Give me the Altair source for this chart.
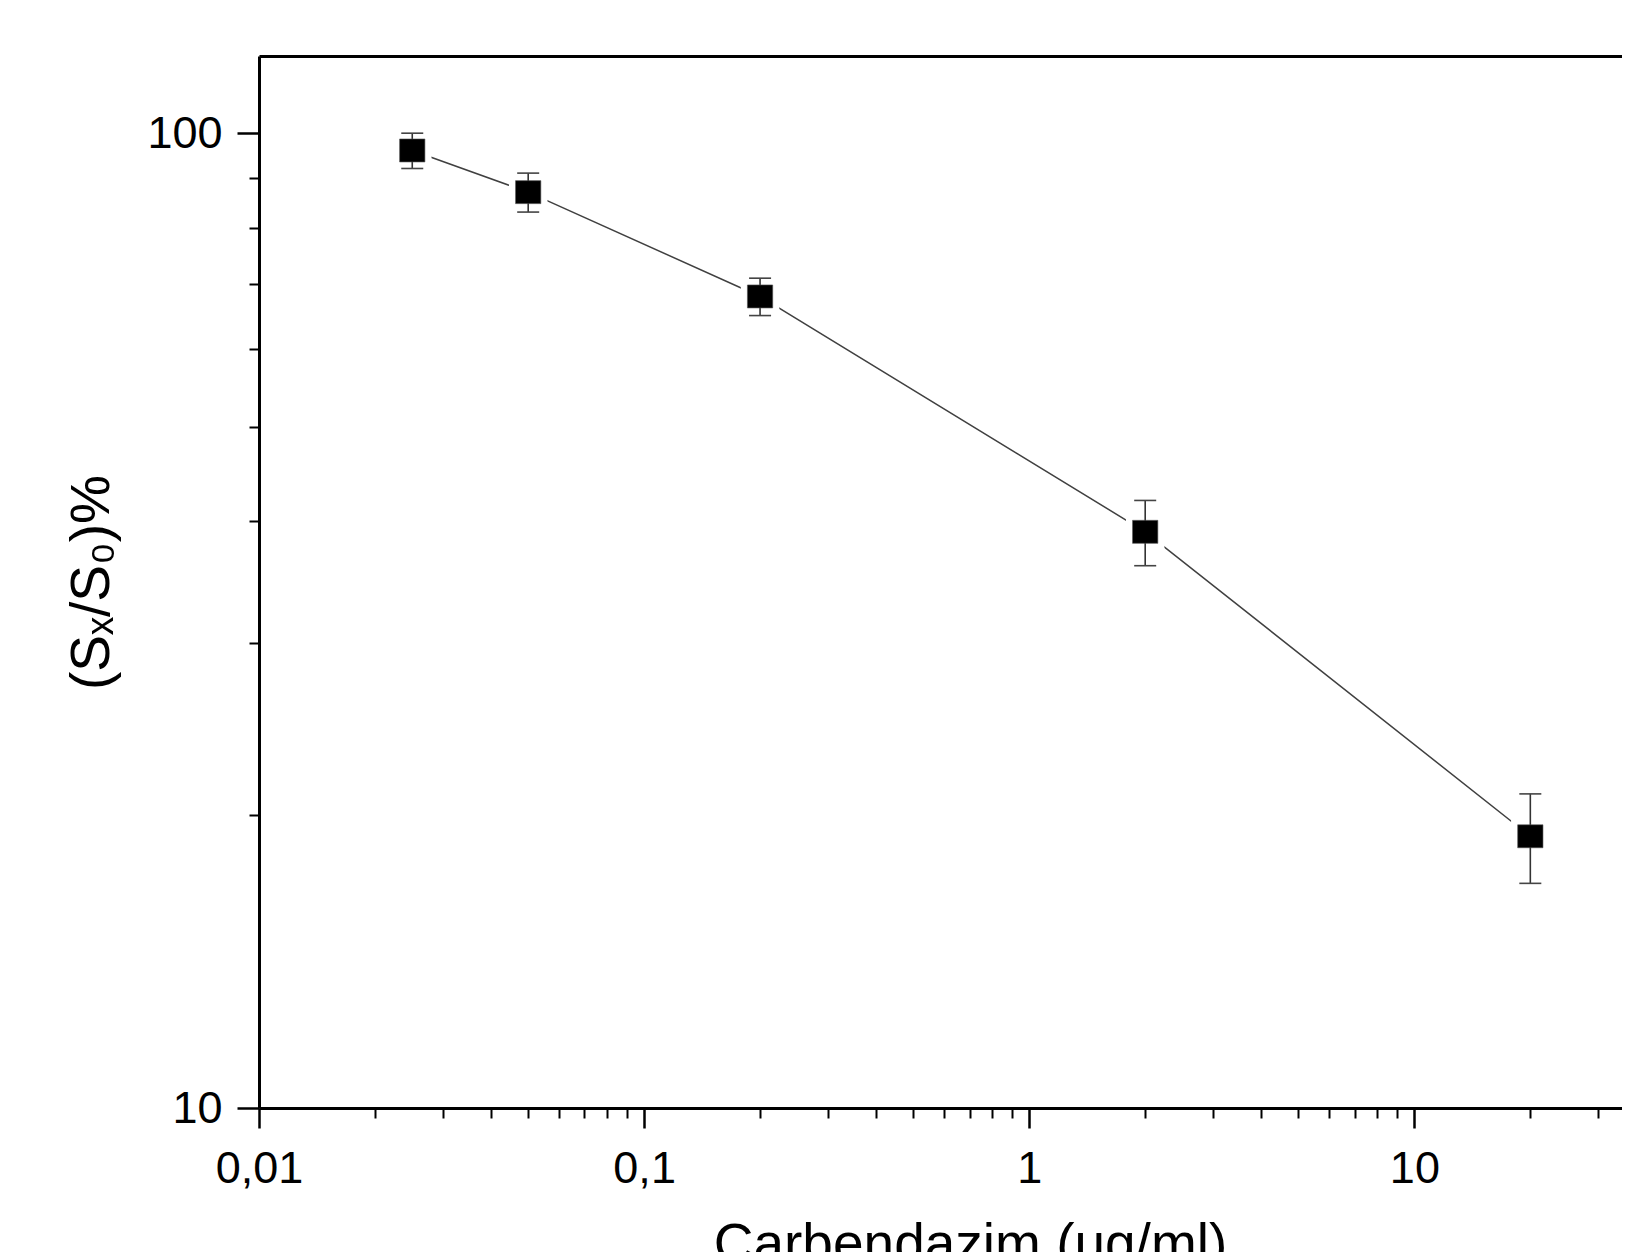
import altair as alt
import pandas as pd

# ---- data ----
conc = [0.025, 0.05, 0.2, 2, 20]          # Carbendazim (ug/ml)
ratio = [96, 87, 68, 39, 19]              # (Sx/S0)%
err = [4, 4, 3, 3, 2]                     # error bar half-width

x_major = [0.01, 0.1, 1, 10]
x_minor = [0.02, 0.03, 0.04, 0.05, 0.06, 0.07, 0.08, 0.09,
           0.2, 0.3, 0.4, 0.5, 0.6, 0.7, 0.8, 0.9,
           2, 3, 4, 5, 6, 7, 8, 9, 20, 30]
y_major = [10, 100]
y_minor = [20, 30, 40, 50, 60, 70, 80, 90]

x_domain = [0.01, 34.6]
y_domain = [10, 120]

df = pd.DataFrame({
    "conc": conc,
    "ratio": ratio,
    "lo": [r - e for r, e in zip(ratio, err)],
    "hi": [r + e for r, e in zip(ratio, err)],
})

FONT = "Liberation Sans"
W, H = 1363, 1052
SHAPE = "M-1.1,-1L1.1,-1L1.1,1L-1.1,1Z"

xscale = alt.Scale(type="log", domain=x_domain, nice=False)
yscale = alt.Scale(type="log", domain=y_domain, nice=False)

ax_x_major = alt.Axis(
    orient="bottom", values=x_major, grid=False,
    domain=True, domainColor="black", domainWidth=3,
    ticks=True, tickSize=20, tickWidth=2.5, tickColor="black",
    labelExpr="replace(toString(datum.value), '.', ',')",
    labelFont=FONT, labelFontSize=45, labelColor="black", labelPadding=18,
    labelFlush=False, labelOverlap=False,
    title="Carbendazim (ug/ml)", titleFont=FONT, titleFontSize=55,
    titleFontWeight="normal", titleColor="black",
    titleX=711, titleY=153, titleAlign="center", titleBaseline="alphabetic",
)
ax_x_minor = alt.Axis(
    orient="bottom", values=x_minor, grid=False, domain=False,
    ticks=True, tickSize=10, tickWidth=2, tickColor="black",
    labels=False, title=None,
)
ax_x_top = alt.Axis(
    orient="top", grid=False, domain=True, domainColor="black", domainWidth=3,
    ticks=False, labels=False, title=None,
)
ax_y_major = alt.Axis(
    orient="left", values=y_major, grid=False,
    domain=True, domainColor="black", domainWidth=3,
    ticks=True, tickSize=22, tickWidth=2.5, tickColor="black",
    labelFont=FONT, labelFontSize=45, labelColor="black", labelPadding=15,
    labelFlush=False, labelOverlap=False,
    title="(Sₓ/S₀)%", titleFont=FONT, titleFontSize=55,
    titleFontWeight="normal", titleColor="black",
    titleAngle=270, titleX=-151, titleY=526,
    titleAlign="center", titleBaseline="alphabetic",
)
ax_y_minor = alt.Axis(
    orient="left", values=y_minor, grid=False, domain=False,
    ticks=True, tickSize=10, tickWidth=2, tickColor="black",
    labels=False, title=None,
)

base = alt.Chart(df)

line = base.mark_line(color="#404040", strokeWidth=1.5).encode(
    x=alt.X("conc:Q", scale=xscale, axis=ax_x_major),
    y=alt.Y("ratio:Q", scale=yscale, axis=ax_y_major),
)

halo = base.mark_point(shape=SHAPE, size=1225, filled=True, color="white",
                       opacity=1, strokeWidth=0).encode(
    x=alt.X("conc:Q", scale=xscale, axis=ax_x_minor),
    y=alt.Y("ratio:Q", scale=yscale, axis=ax_y_minor),
)

rules = base.mark_rule(color="#333333", strokeWidth=1.6, opacity=1).encode(
    x=alt.X("conc:Q", scale=xscale, axis=ax_x_top),
    y=alt.Y("lo:Q", scale=yscale, axis=None),
    y2="hi:Q",
)

caps_hi = base.mark_tick(orient="horizontal", size=22, thickness=1.6,
                         color="#444444", opacity=1).encode(
    x=alt.X("conc:Q", scale=xscale, axis=None),
    y=alt.Y("hi:Q", scale=yscale, axis=None),
)
caps_lo = base.mark_tick(orient="horizontal", size=22, thickness=1.6,
                         color="#444444", opacity=1).encode(
    x=alt.X("conc:Q", scale=xscale, axis=None),
    y=alt.Y("lo:Q", scale=yscale, axis=None),
)

squares = base.mark_point(shape=SHAPE, size=529, filled=True, color="black",
                          opacity=1, stroke="#555555", strokeWidth=0.6).encode(
    x=alt.X("conc:Q", scale=xscale, axis=None),
    y=alt.Y("ratio:Q", scale=yscale, axis=None),
)

chart = alt.layer(line, halo, rules, caps_hi, caps_lo, squares).resolve_axis(
    x="independent", y="independent"
).properties(
    width=W, height=H,
    padding={"left": 251, "top": 48, "right": 0, "bottom": 144},
    autosize=alt.AutoSizeParams(type="none"),
    background="white",
).configure_view(stroke=None)

chart.save("out.html", embed_options={"renderer": "svg", "actions": False})
